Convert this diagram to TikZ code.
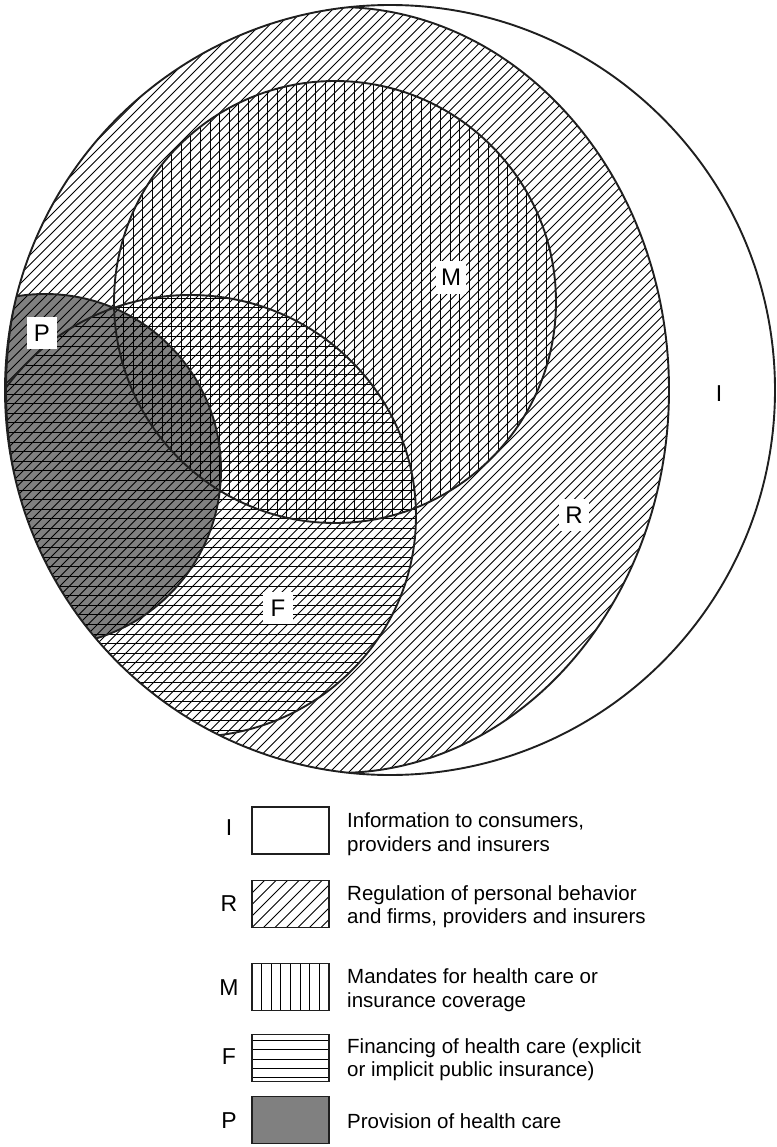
\documentclass[tikz,border=0pt]{standalone}
\usepackage{fontspec}
\setmainfont{Liberation Sans}
\definecolor{pgray}{gray}{0.5}
\definecolor{ink}{gray}{0.12}
\begin{document}
\begin{tikzpicture}[x=1pt,y=-1pt,
  outline/.style={draw=ink, line width=1.9pt},
  hatch/.style={draw=black, line width=0.95pt},
  lbl/.style={fill=white, inner sep=0pt, minimum width=30pt, minimum height=32pt,
    font=\fontsize{24}{28}\selectfont},
  legbox/.style={draw=ink, line width=1.5pt, minimum width=77pt, minimum height=47pt,
    inner sep=0pt},
  legletter/.style={inner sep=0pt, font=\fontsize{23}{27}\selectfont},
  legtext/.style={anchor=base west, inner sep=0pt, font=\fontsize{20.5}{24}\selectfont}]
\useasboundingbox (0,0) rectangle (776,1147);

% centres of the five regions
\coordinate (cI) at (390,390);
\coordinate (cR) at (337.5,390);
\coordinate (cM) at (335,302);
\coordinate (cF) at (190,516);
\coordinate (cP) at (45,470);

% everything except I lives inside the outer boundary
\begin{scope}
  \clip (cI) circle [radius=385pt];
  \begin{scope}
    \clip (cR) ellipse [x radius=331.5pt, y radius=383pt];
    % provision: solid grey
    \fill[pgray] (cP) circle [radius=176pt];
    % regulation: diagonal hatching
    \foreach \c in {0,9.5,...,1560} \draw[hatch] (\c,0) -- (\c-800,800);
    % mandates: vertical hatching
    \begin{scope}
      \clip (cM) circle [radius=221pt];
      \foreach \x in {114,123.6,...,560} \draw[hatch] (\x,70) -- (\x,530);
    \end{scope}
    % financing: horizontal hatching
    \begin{scope}
      \clip (cF) ellipse [x radius=226pt, y radius=221pt];
      \foreach \y in {298,307.6,...,745} \draw[hatch] (-40,\y) -- (420,\y);
    \end{scope}
    % region outlines
    \draw[outline] (cM) circle [radius=221pt];
    \draw[outline] (cF) ellipse [x radius=226pt, y radius=221pt];
    \draw[outline] (cP) circle [radius=176pt];
  \end{scope}
  \draw[outline] (cR) ellipse [x radius=331.5pt, y radius=383pt];
\end{scope}
\draw[outline] (cI) circle [radius=385pt];

% region labels
\node[lbl] (labM) at (451,277.5) {M};
\node[lbl] (labP) at (42,333) {P};
\node[lbl] (labR) at (574,515) {R};
\node[lbl] (labF) at (278,608) {F};
\node[legletter] (labI) at (719,394) {I};

% key
\node[legbox] (boxI) at (290.5,830.5) {};
\node[legbox, path picture={
    \foreach \k in {-5,...,7}
      \draw[hatch, line width=0.8pt] ([xshift=\k*11.5pt]path picture bounding box.south west) -- ++(60pt,60pt);
  }] (boxR) at (290.5,904) {};
\node[legbox, path picture={
    \foreach \k in {1,...,7}
      \draw[hatch, line width=0.8pt] ([xshift=\k*9.625pt]path picture bounding box.south west) -- ++(0pt,60pt);
  }] (boxM) at (290.5,987) {};
\node[legbox, path picture={
    \foreach \k in {0,...,4}
      \draw[hatch, line width=0.8pt] ([yshift=-6pt-\k*9.25pt]path picture bounding box.north west) -- ++(80pt,0pt);
  }] (boxF) at (290.5,1058) {};
\node[legbox, fill=pgray] (boxP) at (290.5,1120) {};

\node[legletter] (keyI) at (229,828) {I};
\node[legletter] (keyR) at (229,904) {R};
\node[legletter] (keyM) at (229,988) {M};
\node[legletter] (keyF) at (229,1057) {F};
\node[legletter] (keyP) at (229,1121) {P};

\node[legtext] (txtI1) at (347,827) {Information to consumers,};
\node[legtext] (txtI2) at (347,851) {providers and insurers};
\node[legtext] (txtR1) at (347,900.5) {Regulation of personal behavior};
\node[legtext] (txtR2) at (347,923) {and firms, providers and insurers};
\node[legtext] (txtM1) at (347,983.5) {Mandates for health care or};
\node[legtext] (txtM2) at (347,1007.5) {insurance coverage};
\node[legtext] (txtF1) at (347,1053) {Financing of health care (explicit};
\node[legtext] (txtF2) at (347,1076) {or implicit public insurance)};
\node[legtext] (txtP1) at (347,1128) {Provision of health care};
\end{tikzpicture}
\end{document}
